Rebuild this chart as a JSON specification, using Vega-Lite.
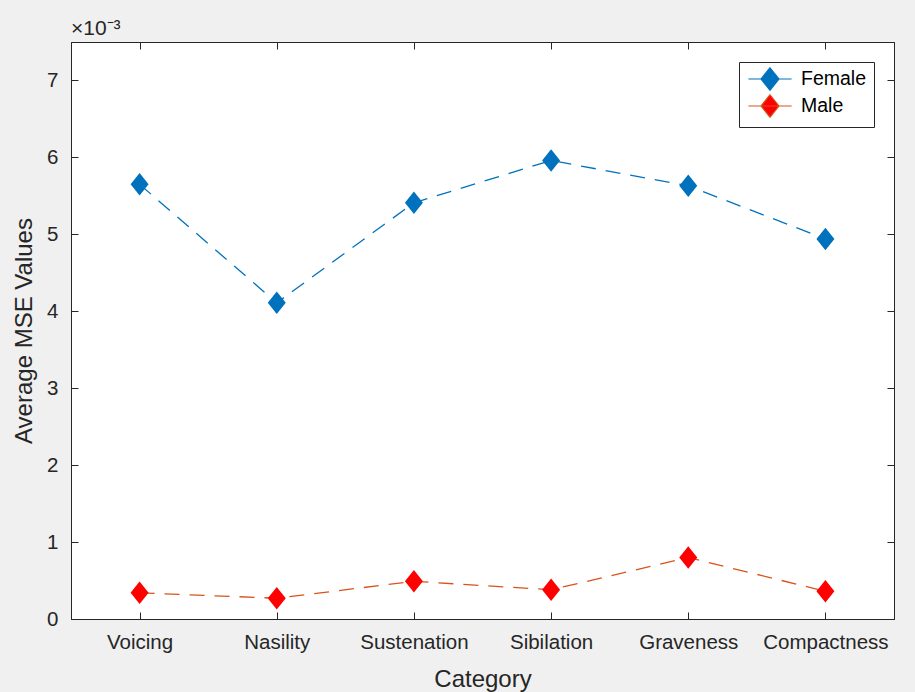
{
  "$schema": "https://vega.github.io/schema/vega-lite/v6.json",
  "autosize": {"type": "none"},
  "width": 823,
  "height": 577,
  "padding": {"left": 71, "top": 42, "right": 21, "bottom": 73},
  "background": "#f0f0f0",
  "title": {
    "text": "×10⁻³",
    "anchor": "start",
    "frame": "group",
    "offset": 3,
    "font": "Liberation Sans",
    "fontSize": 21,
    "fontWeight": "normal",
    "color": "#262626"
  },
  "config": {
    "view": {"stroke": "#262626", "strokeWidth": 1, "fill": "white"},
    "axis": {
      "domainColor": "#262626",
      "domainWidth": 1,
      "tickColor": "#262626",
      "tickWidth": 1,
      "grid": false,
      "labelFont": "Liberation Sans",
      "labelFontSize": 20.5,
      "labelColor": "#262626",
      "titleFont": "Liberation Sans",
      "titleFontSize": 24,
      "titleFontWeight": "normal",
      "titleColor": "#262626"
    },
    "legend": {
      "labelFont": "Liberation Sans",
      "labelFontSize": 19.5,
      "labelColor": "#000000"
    }
  },
  "data": {
    "values": [
      {"category": "Voicing", "gender": "Female", "mse": 0.00565},
      {"category": "Nasility", "gender": "Female", "mse": 0.00411},
      {"category": "Sustenation", "gender": "Female", "mse": 0.00541},
      {"category": "Sibilation", "gender": "Female", "mse": 0.00596},
      {"category": "Graveness", "gender": "Female", "mse": 0.00563},
      {"category": "Compactness", "gender": "Female", "mse": 0.00494},
      {"category": "Voicing", "gender": "Male", "mse": 0.00034},
      {"category": "Nasility", "gender": "Male", "mse": 0.00027},
      {"category": "Sustenation", "gender": "Male", "mse": 0.00049},
      {"category": "Sibilation", "gender": "Male", "mse": 0.00038},
      {"category": "Graveness", "gender": "Male", "mse": 0.00080},
      {"category": "Compactness", "gender": "Male", "mse": 0.00036}
    ]
  },
  "resolve": {"axis": {"x": "independent", "y": "independent"}},
  "layer": [
    {
      "mark": {"type": "line", "strokeDash": [15, 10], "strokeWidth": 1.3},
      "encoding": {
        "x": {
          "field": "category",
          "type": "nominal",
          "sort": null,
          "scale": {"type": "point", "padding": 0.5},
          "axis": {
            "orient": "bottom",
            "title": "Category",
            "labelAngle": 0,
            "tickSize": -7,
            "labelPadding": 20,
            "titlePadding": 15
          }
        },
        "y": {
          "field": "mse",
          "type": "quantitative",
          "scale": {"domain": [0, 0.0075], "nice": false, "zero": true},
          "axis": {
            "orient": "left",
            "title": "Average MSE Values",
            "values": [0, 0.001, 0.002, 0.003, 0.004, 0.005, 0.006, 0.007],
            "labelExpr": "round(datum.value * 1000) + ''",
            "tickSize": -7,
            "labelPadding": 20,
            "titlePadding": 10
          }
        },
        "stroke": {
          "field": "gender",
          "type": "nominal",
          "scale": {"domain": ["Female", "Male"], "range": ["#0072BD", "#D95319"]},
          "legend": {
            "title": null,
            "orient": "top-right",
            "offset": 20,
            "fillColor": "white",
            "strokeColor": "#262626",
            "padding": 7,
            "rowPadding": -1,
            "symbolType": "M-2.4,0L2.4,0M0,-1.25L1,0L0,1.25L-1,0Z",
            "symbolSize": 324,
            "symbolStrokeWidth": 1.2,
            "symbolOffset": 14,
            "labelOffset": 21
          }
        }
      }
    },
    {
      "mark": {
        "type": "point",
        "shape": "M0,-1.25L1,0L0,1.25L-1,0Z",
        "size": 324,
        "filled": true,
        "opacity": 1,
        "strokeWidth": 0
      },
      "encoding": {
        "x": {
          "field": "category",
          "type": "nominal",
          "sort": null,
          "axis": {"orient": "top", "title": null, "labels": false, "tickSize": -7}
        },
        "y": {
          "field": "mse",
          "type": "quantitative",
          "axis": {
            "orient": "right",
            "title": null,
            "labels": false,
            "tickSize": -7,
            "values": [0, 0.001, 0.002, 0.003, 0.004, 0.005, 0.006, 0.007]
          }
        },
        "fill": {
          "field": "gender",
          "type": "nominal",
          "scale": {"domain": ["Female", "Male"], "range": ["#0072BD", "#FF0000"]},
          "legend": {
            "title": null,
            "orient": "top-right",
            "offset": 20,
            "fillColor": "white",
            "strokeColor": "#262626",
            "padding": 7,
            "rowPadding": -1,
            "symbolType": "M-2.4,0L2.4,0M0,-1.25L1,0L0,1.25L-1,0Z",
            "symbolSize": 324,
            "symbolStrokeWidth": 1.2,
            "symbolOffset": 14,
            "labelOffset": 21
          }
        }
      }
    }
  ]
}
